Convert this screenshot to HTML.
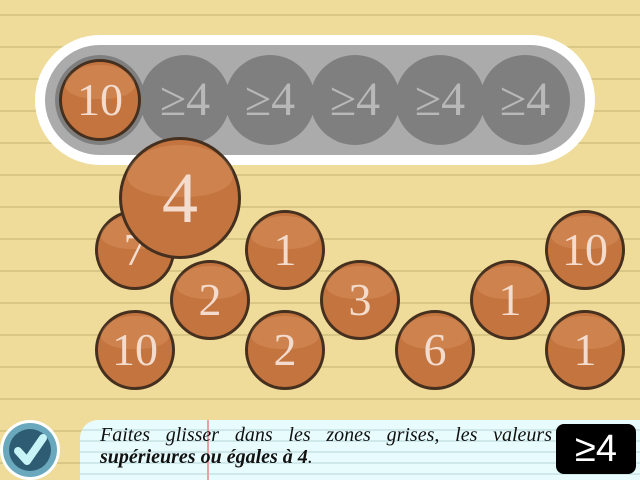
<!DOCTYPE html>
<html><head><meta charset="utf-8"><style>
body{margin:0;width:640px;height:480px;overflow:hidden;position:relative;font-family:"Liberation Serif",serif;
background:repeating-linear-gradient(to bottom,#efdc9a 0,#efdc9a 14px,#d8c785 14px,#d8c785 16px,#efdc9a 16px,#efdc9a 32px);background-color:#efdc9a;}
.pill{position:absolute;left:35px;top:35px;width:560px;height:130px;border-radius:65px;background:#fff}
.inner{position:absolute;left:45px;top:45px;width:540px;height:110px;border-radius:55px;background:#ababab}
.slot{position:absolute;width:90px;height:90px;border-radius:50%;background:#7f7f7f;color:#b8b8b8;font-size:48px;text-align:center;line-height:90px}
.coin{position:absolute;border-radius:50%;box-sizing:border-box;border:3px solid #45301f;
background:radial-gradient(circle at 50% 50%,#c4743f 0,#c4743f 80%,#9a5a2e 100%);color:#f3dccd;text-align:center}
.coin::before{content:"";position:absolute;left:4%;top:4%;width:92%;height:45%;border-radius:50% 50% 45% 45%/60% 60% 40% 40%;background:rgba(255,200,150,0.18)}
.panel{position:absolute;left:80px;top:420px;width:560px;height:60px;border-top-left-radius:18px;
background:repeating-linear-gradient(to bottom,#e9fcfd 0,#e9fcfd 9px,#cfe8ea 9px,#cfe8ea 11px);}
</style></head><body>
<div class="pill"></div>
<div class="inner"></div>
<div class="slot" style="left:140px;top:55px">≥4</div>
<div class="slot" style="left:225px;top:55px">≥4</div>
<div class="slot" style="left:310px;top:55px">≥4</div>
<div class="slot" style="left:395px;top:55px">≥4</div>
<div class="slot" style="left:480px;top:55px">≥4</div>
<div class="slot" style="left:55px;top:55px"></div>
<div id="coins"></div>
<div class="panel">
<div style="position:absolute;left:127px;top:0;width:2px;height:60px;background:#e8a0a0"></div>
<div style="position:absolute;left:20px;top:4px;width:452px;font-size:20px;line-height:22px;color:#111;font-style:italic;text-align:justify;text-align-last:justify">Faites glisser dans les zones grises, les valeurs</div>
<div style="position:absolute;left:20px;top:26px;font-size:20px;line-height:22px;color:#111;font-style:italic"><b>supérieures ou égales à 4</b>.</div>
</div>
<div style="position:absolute;left:556px;top:424px;width:80px;height:50px;border-radius:8px;background:#000;color:#fff;font-family:'Liberation Sans',sans-serif;font-size:38px;text-align:center;line-height:50px">≥4</div>
<div style="position:absolute;left:0;top:420px;width:60px;height:60px;border-radius:50%;background:#fff"></div>
<div style="position:absolute;left:3px;top:423px;width:54px;height:54px;border-radius:50%;background:#6aa9bd">
<div style="position:absolute;left:6px;top:6px;width:42px;height:42px;border-radius:50%;background:#2e5d73"></div>
<svg style="position:absolute;left:0;top:0" width="54" height="54"><path d="M15 28 L24 38 L40 15" stroke="#c6f4f7" stroke-width="8" fill="none" stroke-linecap="round" stroke-linejoin="round"/></svg></div>
<script>
const values=[10,7,2,1,3,2,10,6,1,10,1,4];
const cx=[100,135,210,285,360,285,135,435,510,585,585,180];
const cy=[100,250,300,250,300,350,350,350,300,250,350,198];
const box=document.getElementById('coins');
for(let i=0;i<values.length;i++){
 const r=i===11?61:(i===0?41:40);
 const d=document.createElement('div');
 d.className='coin';
 
 
 d.style.cssText=`left:${cx[i]-r}px;top:${cy[i]-r}px;width:${2*r}px;height:${2*r}px;line-height:${2*r-6}px;font-size:${i===11?72:46}px`;
 const s=document.createElement('span');s.style.position='relative';s.textContent=values[i];d.appendChild(s);
 box.appendChild(d);
}
</script>
</body></html>
